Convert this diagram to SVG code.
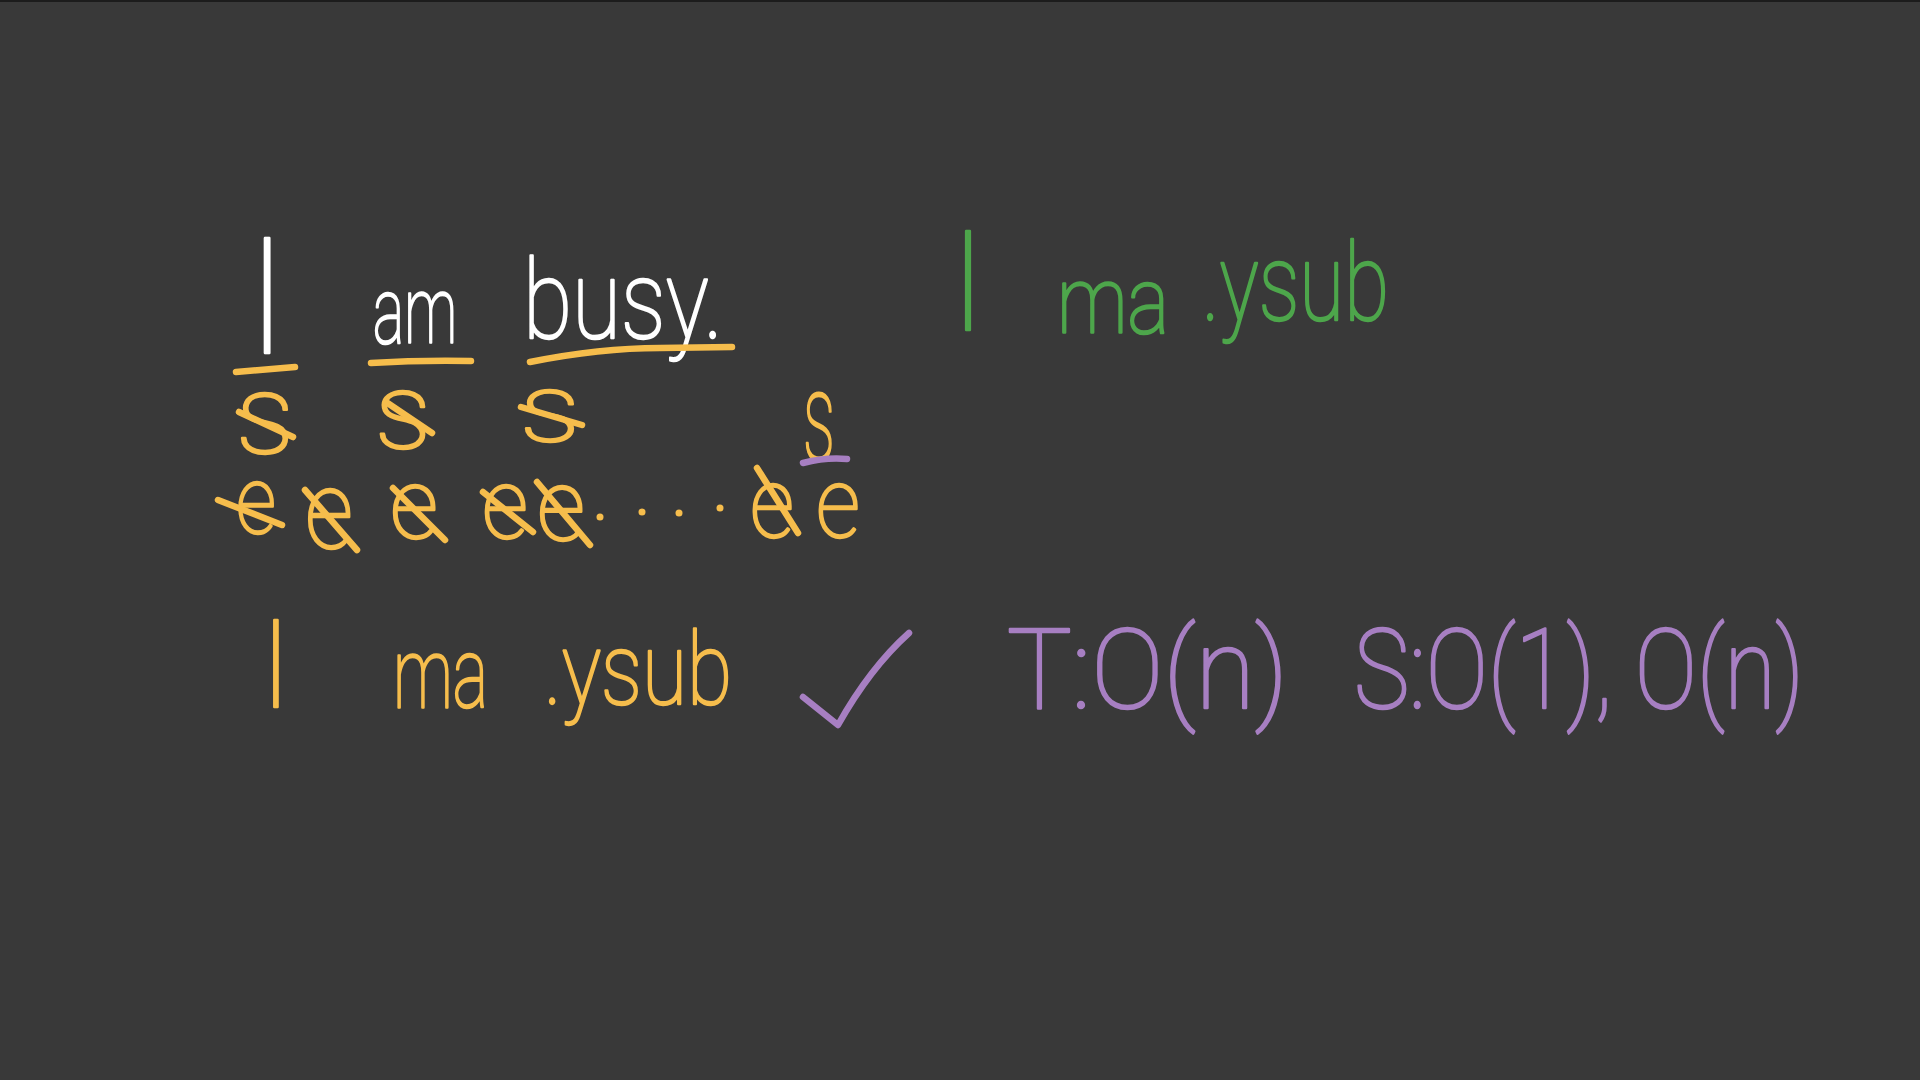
<svg xmlns="http://www.w3.org/2000/svg" width="1920" height="1080" viewBox="0 0 1920 1080">
<style>
text{font-family:Roboto,"Liberation Sans",sans-serif;font-weight:100;stroke-width:2.5;stroke-linejoin:round;stroke-linecap:round}
.w{fill:#ffffff;stroke:#ffffff}
.o{fill:#F6BD4C;stroke:#F6BD4C}
.g{fill:#4DA64B;stroke:#4DA64B}
.p{fill:#A77FC2;stroke:#A77FC2}
.st{fill:none;stroke-linecap:round;stroke-linejoin:round;stroke-width:6.5}
.os{stroke:#F6BD4C}
.ps{stroke:#A77FC2}
.dot{fill:#F6BD4C}
</style>
<rect width="1920" height="1080" fill="#393939"/>
<rect width="1920" height="2" fill="#1c1c1c"/>

<g id="original-sentence">
  <text class="w" x="267" y="353" font-size="162" text-anchor="middle">I</text>
  <text class="w" x="373" y="343" font-size="92" textLength="84" lengthAdjust="spacingAndGlyphs">am</text>
  <text class="w" x="523" y="338" font-size="110" textLength="200" lengthAdjust="spacingAndGlyphs">busy.</text>
</g>

<g id="word-underlines">
  <path class="st os" d="M236,372 L295,367"/>
  <path class="st os" d="M371,363 Q420,360 471,361"/>
  <path class="st os" d="M530,362 Q600,348 660,348 L732,347"/>
</g>

<g id="start-markers">
  <text class="o" x="236" y="453" font-size="112" textLength="58" lengthAdjust="spacingAndGlyphs">s</text>
  <path class="st os" d="M239,412 L293,437"/>
  <text class="o" x="375" y="448" font-size="106" textLength="56" lengthAdjust="spacingAndGlyphs">s</text>
  <path class="st os" d="M386,402 L432,433"/>
  <text class="o" x="520" y="441" font-size="95" textLength="60" lengthAdjust="spacingAndGlyphs">s</text>
  <path class="st os" d="M521,407 L582,425"/>
  <text class="o" x="803" y="460" font-size="125" textLength="32" lengthAdjust="spacingAndGlyphs">s</text>
  <path class="st ps" d="M803,463 Q826,457 847,459"/>
</g>

<g id="end-markers">
  <text class="o" x="236" y="533" font-size="95" textLength="40" lengthAdjust="spacingAndGlyphs">e</text>
  <path class="st os" d="M218,500 L282,525"/>
  <text class="o" x="305" y="548" font-size="110" textLength="48" lengthAdjust="spacingAndGlyphs">e</text>
  <path class="st os" d="M305,490 L357,550"/>
  <text class="o" x="390" y="538" font-size="98" textLength="48" lengthAdjust="spacingAndGlyphs">e</text>
  <path class="st os" d="M393,488 L445,540"/>
  <text class="o" x="482" y="538" font-size="98" textLength="46" lengthAdjust="spacingAndGlyphs">e</text>
  <path class="st os" d="M483,492 L533,532"/>
  <text class="o" x="537" y="540" font-size="100" textLength="48" lengthAdjust="spacingAndGlyphs">e</text>
  <path class="st os" d="M537,482 L590,545"/>
  <circle class="dot" cx="600" cy="517" r="3.5"/>
  <circle class="dot" cx="642" cy="512" r="3.5"/>
  <circle class="dot" cx="679" cy="513" r="3.5"/>
  <circle class="dot" cx="720" cy="508" r="3.5"/>
  <text class="o" x="750" y="537" font-size="98" textLength="44" lengthAdjust="spacingAndGlyphs">e</text>
  <path class="st os" d="M757,468 L798,533"/>
  <text class="o" x="816" y="537" font-size="98" textLength="44" lengthAdjust="spacingAndGlyphs">e</text>
</g>

<g id="reversed-words-green">
  <text class="g" x="968" y="330" font-size="140" text-anchor="middle">I</text>
  <text class="g" x="1057" y="333" font-size="92" textLength="112" lengthAdjust="spacingAndGlyphs">ma</text>
  <text class="g" x="1202" y="320" font-size="108" textLength="187" lengthAdjust="spacingAndGlyphs">.ysub</text>
</g>

<g id="reversed-words-orange">
  <text class="o" x="276" y="707" font-size="122" text-anchor="middle">I</text>
  <text class="o" x="393" y="707" font-size="98" textLength="95" lengthAdjust="spacingAndGlyphs">ma</text>
  <text class="o" x="544" y="704" font-size="100" textLength="188" lengthAdjust="spacingAndGlyphs">.ysub</text>
</g>

<g id="checkmark">
  <path class="st ps" d="M803,697 L838,725 Q870,668 909,633"/>
</g>

<g id="complexity">
  <text class="p" x="1007" y="708" font-size="112" textLength="281" lengthAdjust="spacingAndGlyphs">T:O(n)</text>
  <text class="p" x="1354" y="708" font-size="112" textLength="450" lengthAdjust="spacingAndGlyphs">S:O(1), O(n)</text>
</g>
</svg>
